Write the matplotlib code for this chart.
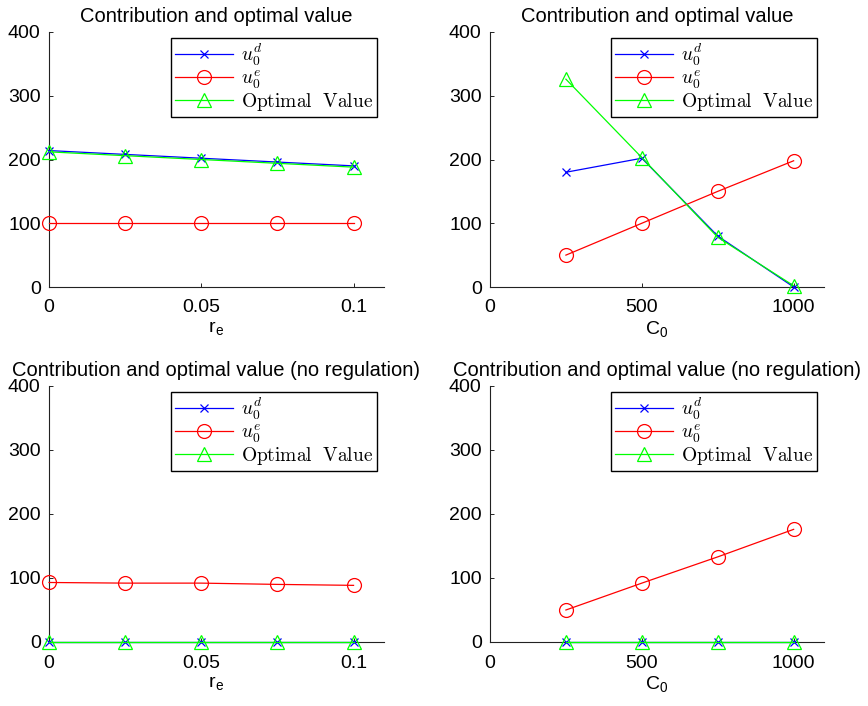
import numpy as np
import matplotlib
matplotlib.use('Agg')
import matplotlib.pyplot as plt

plt.rcParams['font.family'] = ['Liberation Sans', 'DejaVu Sans']
plt.rcParams['mathtext.fontset'] = 'cm'

# x values
r_e = [0, 0.025, 0.05, 0.075, 0.1]
c0 = [250, 500, 750, 1000]

# top-left: with regulation, vs r_e
ud_re = [214, 208, 202, 196, 190]
ue_re = [100, 100, 100, 100, 100]
opt_re = [212, 206, 200, 194, 188]

# top-right: with regulation, vs C_0
ud_c0 = [180, 202, 80, 0]
ue_c0 = [50, 100, 150, 198]
opt_c0 = [326, 203, 78, 2]

# bottom-left: no regulation, vs r_e
ud_re_nr = [0, 0, 0, 0, 0]
ue_re_nr = [93, 92, 92, 90, 88.5]
opt_re_nr = [0, 0, 0, 0, 0]

# bottom-right: no regulation, vs C_0
ud_c0_nr = [0, 0, 0, 0]
ue_c0_nr = [50, 92, 133, 176]
opt_c0_nr = [0, 0, 0, 0]

titles = ['Contribution and optimal value',
          'Contribution and optimal value',
          'Contribution and optimal value (no regulation)',
          'Contribution and optimal value (no regulation)']

fig = plt.figure(figsize=(8.68, 7.06), dpi=100)

W, H = 868, 706
boxes = [(49, 32, 384, 287), (490, 32, 824, 287),
         (49, 386, 384, 642), (490, 386, 824, 642)]

panels = [
    (r_e, ud_re, ue_re, opt_re, 'r$_\\mathregular{e}$', [0, 0.11], [0, 0.05, 0.1], ['0', '0.05', '0.1']),
    (c0, ud_c0, ue_c0, opt_c0, 'C$_\\mathregular{0}$', [0, 1100], [0, 500, 1000], ['0', '500', '1000']),
    (r_e, ud_re_nr, ue_re_nr, opt_re_nr, 'r$_\\mathregular{e}$', [0, 0.11], [0, 0.05, 0.1], ['0', '0.05', '0.1']),
    (c0, ud_c0_nr, ue_c0_nr, opt_c0_nr, 'C$_\\mathregular{0}$', [0, 1100], [0, 500, 1000], ['0', '500', '1000']),
]

for (x0, y0, x1, y1), title, (x, ud, ue, opt, xlab, xlim, xt, xtl) in zip(boxes, titles, panels):
    ax = fig.add_axes([x0 / W, 1 - y1 / H, (x1 - x0) / W, (y1 - y0) / H])
    ax.plot(x, ud, color='#0000ff', marker='x', ms=6, mew=0.9, lw=0.9,
            label='$u_0^d$', clip_on=False, zorder=3)
    ax.plot(x, ue, color='#ff0000', marker='o', ms=10, mfc='none', mew=0.9, lw=0.9,
            label='$u_0^e$', clip_on=False, zorder=3)
    ax.plot(x, opt, color='#00ff00', marker='^', ms=10, mfc='none', mew=0.9, lw=0.9,
            label='$\\mathrm{Optimal\\ \\ Value}$', clip_on=False, zorder=3)
    ax.set_xlim(xlim)
    ax.set_ylim(0, 400)
    ax.set_xticks(xt)
    ax.set_xticklabels(xtl)
    ax.set_yticks([0, 100, 200, 300, 400])
    ax.tick_params(direction='in', labelsize=14, length=3, width=0.6, pad=6)
    ax.tick_params(axis='x', pad=9)
    ax.spines['top'].set_visible(False)
    ax.spines['right'].set_visible(False)
    for s in ['left', 'bottom']:
        ax.spines[s].set_linewidth(0.8)
        ax.spines[s].set_color('#222222')
    ax.set_title(title, fontsize=14.5, pad=7)
    ax.set_xlabel(xlab, fontsize=14, labelpad=2)
    leg = ax.legend(loc='upper right', bbox_to_anchor=(0.979, 0.976), fontsize=14,
                    fancybox=False, framealpha=1, edgecolor='black',
                    handlelength=3.0, handletextpad=0.4, borderpad=0.2,
                    labelspacing=0.0, borderaxespad=0.0)
    leg.get_frame().set_linewidth(1.0)

fig.savefig('out.png', dpi=100)
